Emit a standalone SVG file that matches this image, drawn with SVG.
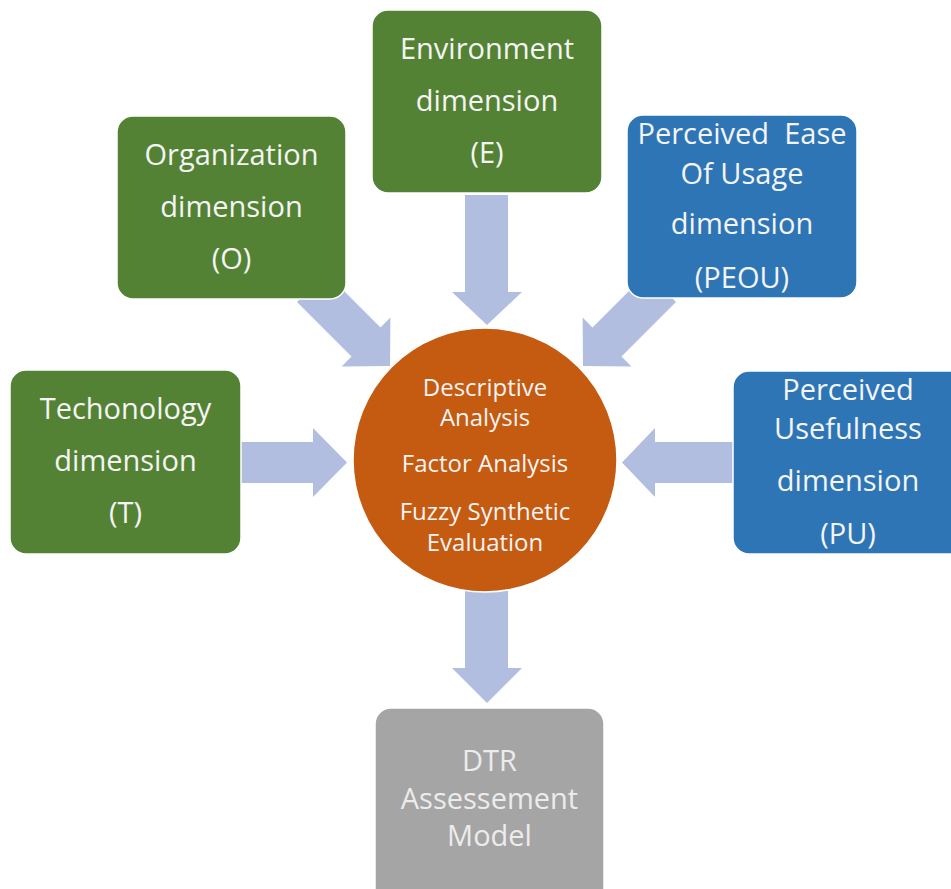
<svg xmlns="http://www.w3.org/2000/svg" width="951" height="889" viewBox="0 0 951 889">
<style>
.arrow{fill:#b1bee0}
.box{stroke:#ffffff;stroke-width:1.5}
.green{fill:#548235}
.blue{fill:#2e75b6}
.gray{fill:#a5a5a5}
.t{font-family:"Open Sans","Liberation Sans",sans-serif;font-size:29px;fill:#f4f4f4;text-anchor:middle}
.c{font-family:"Open Sans","Liberation Sans",sans-serif;font-size:24px;fill:#f4f4f4;text-anchor:middle}
.g{fill:#ececec}
</style>
<rect width="951" height="889" fill="#ffffff"/>
<g id="connectors">
<polygon class="arrow" points="465,195 508,195 508,292 522,292 487,325 452,292 465,292"/>
<polygon class="arrow" points="465,588 508,588 508,668 522,668 487,703 452,668 465,668"/>
<polygon class="arrow" points="241,442 313,442 313,428 347,462.5 313,497 313,483 241,483"/>
<polygon class="arrow" points="733,442 655,442 655,428 622,462.5 655,497 655,483 733,483"/>
<polygon class="arrow" points="326,273 380.5,327.5 390.4,317.6 390,366 341.6,366.4 351.5,356.5 297,302"/>
<polygon class="arrow" points="647,273 592.5,327.5 582.6,317.6 583,366 631.4,366.4 621.5,356.5 676,302"/>
</g>
<g id="environment">
<rect class="box green" x="372" y="10" width="230" height="183" rx="16"/>
<text class="t" x="487" y="59">Environment</text>
<text class="t" x="487" y="111">dimension</text>
<text class="t" x="487" y="163">(E)</text>
</g>
<g id="organization">
<rect class="box green" x="117" y="116" width="229" height="183" rx="16"/>
<text class="t" x="231.5" y="165">Organization</text>
<text class="t" x="231.5" y="217">dimension</text>
<text class="t" x="231.5" y="269">(O)</text>
</g>
<g id="peou">
<rect class="box blue" x="627" y="115" width="230" height="183" rx="16"/>
<text class="t" x="742" y="144" xml:space="preserve">Perceived  Ease</text>
<text class="t" x="742" y="184">Of Usage</text>
<text class="t" x="742" y="234">dimension</text>
<text class="t" x="742" y="288">(PEOU)</text>
</g>
<g id="technology">
<rect class="box green" x="10" y="370" width="231" height="184" rx="16"/>
<text class="t" x="125.5" y="419">Techonology</text>
<text class="t" x="125.5" y="471">dimension</text>
<text class="t" x="125.5" y="523">(T)</text>
</g>
<g id="pu">
<rect class="box blue" x="733" y="371" width="232" height="183" rx="16"/>
<text class="t" x="848" y="400">Perceived</text>
<text class="t" x="848" y="439">Usefulness</text>
<text class="t" x="848" y="491">dimension</text>
<text class="t" x="848" y="544">(PU)</text>
</g>
<g id="analysis">
<circle cx="485" cy="460" r="132" fill="#c55a11" stroke="#ffffff" stroke-width="1.5"/>
<text class="c" x="485" y="396">Descriptive</text>
<text class="c" x="485" y="426">Analysis</text>
<text class="c" x="485" y="472">Factor Analysis</text>
<text class="c" x="485" y="520">Fuzzy Synthetic</text>
<text class="c" x="485" y="551">Evaluation</text>
</g>
<g id="dtr">
<rect class="box gray" x="375" y="708" width="229" height="200" rx="16"/>
<text class="t g" x="489.5" y="771">DTR</text>
<text class="t g" x="489.5" y="809">Assessement</text>
<text class="t g" x="489.5" y="846">Model</text>
</g>
</svg>
